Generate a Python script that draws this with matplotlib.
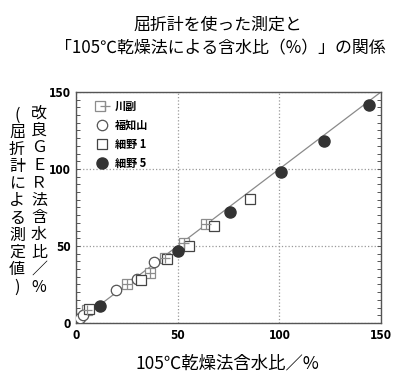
import matplotlib
matplotlib.use("Agg")
import matplotlib.pyplot as plt
from matplotlib.legend_handler import HandlerTuple
from matplotlib.ticker import MultipleLocator

plt.rcParams['font.family'] = ['Noto Sans CJK JP', 'DejaVu Sans']

# Data (105℃乾燥法 x, 改良GER法 y)
kawasoe_x = [5.2, 24.9, 36.4, 43.9, 53.1, 63.9]
kawasoe_y = [8.4, 25.3, 32.2, 42.0, 52.1, 64.3]
fukuchiyama_x = [2.0, 3.6, 19.7, 30.2, 38.4]
fukuchiyama_y = [3.0, 5.0, 21.2, 28.8, 39.4]
hosono1_x = [6.6, 31.8, 44.6, 55.4, 67.9, 85.6]
hosono1_y = [9.3, 27.9, 41.6, 50.2, 63.2, 80.3]
hosono5_x = [11.8, 50.2, 75.7, 101.0, 122.0, 144.3]
hosono5_y = [11.3, 47.0, 71.9, 98.0, 118.2, 141.4]
line_x = [0, 150]
line_y = [0, 150]
labels = ['川副', '福知山', '細野 1', '細野 5']
ticks = [0, 50, 100, 150]

fig = plt.figure(figsize=(4.0, 3.87), dpi=100)
ax = fig.add_axes([0.19, 0.1654, 0.7625, 0.597])

ax.plot(line_x, line_y, color='#8a8a8a', lw=0.9, zorder=1)

ms = 7
h_k1, = ax.plot(kawasoe_x, kawasoe_y, 's', ms=ms, mfc='white', mec='#8c8c8c', mew=0.9, ls='none', zorder=3)
h_k2, = ax.plot(kawasoe_x, kawasoe_y, '+', ms=ms, mec='#8c8c8c', mew=0.9, ls='none', zorder=4)
h_f, = ax.plot(fukuchiyama_x, fukuchiyama_y, 'o', ms=ms + 0.5, mfc='white', mec='#555555', mew=0.9, ls='none', zorder=3)
h_h1, = ax.plot(hosono1_x, hosono1_y, 's', ms=ms, mfc='white', mec='#444444', mew=0.9, ls='none', zorder=3)
h_h5, = ax.plot(hosono5_x, hosono5_y, 'o', ms=ms + 1, mfc='#333333', mec='#333333', ls='none', zorder=3)

ax.set_xlim(0, 150)
ax.set_ylim(0, 150)
ax.set_xticks(ticks)
ax.set_yticks(ticks)
ax.yaxis.set_minor_locator(MultipleLocator(5))
ax.tick_params(which='both', direction='in', right=True, top=False, length=3, width=0.7, color='#555555')
ax.tick_params(axis='x', which='major', length=0)
ax.tick_params(which='major', labelsize=8.5, pad=4)
for lab in ax.get_xticklabels() + ax.get_yticklabels():
    lab.set_family(['DejaVu Sans'])
    lab.set_fontstretch('condensed')
    lab.set_fontweight('bold')
ax.grid(True, which='major', ls=':', color='#999999', lw=0.9)
for s in ax.spines.values():
    s.set_color('#555555')
    s.set_linewidth(1.0)

leg = ax.legend([(h_k1, h_k2), h_f, h_h1, h_h5], labels,
                handler_map={tuple: HandlerTuple(ndivide=None, pad=0)},
                loc='upper left', frameon=False, fontsize=8,
                handlelength=1.0, handletextpad=0.6, labelspacing=0.55,
                borderaxespad=0.3, bbox_to_anchor=(0.043, 1.0))
for t in leg.get_texts():
    t.set_fontweight('bold')

fig.text(0.545, 1 - 25 / 387, '屈折計を使った測定と', ha='center', va='center', fontsize=12.2)
fig.text(0.55, 1 - 48 / 387, '「105℃乾燥法による含水比（%）」の関係', ha='center', va='center', fontsize=12.2)
fig.text(227 / 400, 1 - 363 / 387, '105℃乾燥法含水比／%', ha='center', va='center', fontsize=12.5)

right_col = list('改良ＧＥＲ法含水比／') + ['%']
left_col = ['('] + list('屈折計による測定値') + [')']
for i, ch in enumerate(right_col):
    fig.text(39 / 400, 1 - (113 + i * 17.4) / 387, ch, ha='center', va='center', fontsize=11.5)
for i, ch in enumerate(left_col):
    fig.text(17 / 400, 1 - (115 + i * 17.2) / 387, ch, ha='center', va='center', fontsize=11.5)

fig.savefig('out.png', dpi=100)
